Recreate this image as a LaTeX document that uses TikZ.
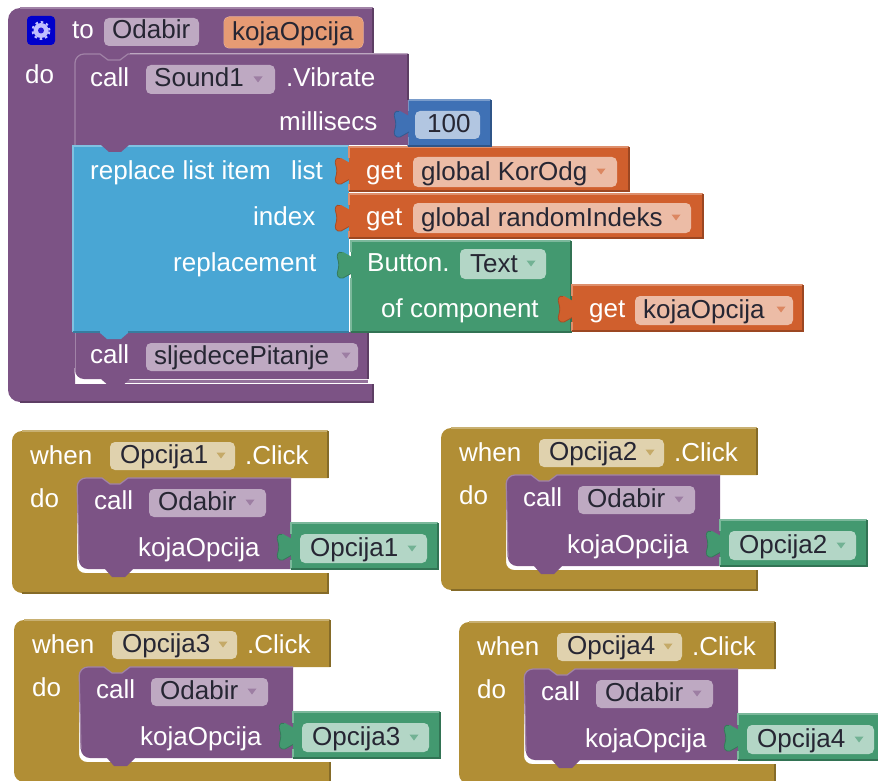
\documentclass[tikz,border=0pt]{standalone}
\usepackage{fontspec}
\setmainfont{Liberation Sans}
\definecolor{cpur}{HTML}{7C5385}
\definecolor{cblu}{HTML}{49A6D4}
\definecolor{cora}{HTML}{D05F2D}
\definecolor{cgrn}{HTML}{439970}
\definecolor{cmus}{HTML}{B18E35}
\definecolor{cval}{HTML}{3F71B5}
\definecolor{fpur}{HTML}{BEA9C2}
\definecolor{fora}{HTML}{ECBCA6}
\definecolor{fparam}{HTML}{E69B74}
\definecolor{fgrn}{HTML}{B3D6C6}
\definecolor{fmus}{HTML}{E0D2AE}
\definecolor{fval}{HTML}{B2C6E1}
\definecolor{ftxt}{HTML}{262633}
\tikzset{
  lbl/.style={anchor=base west,inner sep=0pt,text=white,font=\fontsize{26}{30}\selectfont},
  fldtxt/.style={anchor=base west,inner sep=0pt,text=ftxt,font=\fontsize{26}{30}\selectfont},
  fldbox/.style={rounded corners=5pt},
}
% label: name, x, baseline, text
\newcommand\lab[4]{\node[lbl] (#1) at (#2,#3) {#4};}
% field: [text offset] name,x1,y1,x2,y2,fill,text
\newcommand\fld[8][8]{\fill[#7,fldbox] (#3,#4) rectangle (#5,#6);
  \node[fldtxt] (#2) at ([xshift=#1pt]#3,#6-7) {#8};}
% drop-down arrow: centre x, centre y, colour
\newcommand\drop[3]{\fill[#3!75!white] (#1-4.5,#2-2.5) -- (#1+4.5,#2-2.5) -- (#1,#2+3.5) -- cycle;}
% left puzzle tab: x of block edge, top y, colour
\newcommand\tabpc[3]{\fill[#3] (#1+1,#2+5) -- (#1-8,#2) .. controls (#1-13,#2-1) and (#1-15,#2+3) .. (#1-13,#2+8)
   .. controls (#1-12,#2+11) and (#1-12,#2+15) .. (#1-13,#2+18)
   .. controls (#1-15,#2+23) and (#1-13,#2+27) .. (#1-8,#2+26) -- (#1+1,#2+21) -- cycle;
   \draw[#3!80!black,line width=.8pt] (#1-9,#2+.5) .. controls (#1-13,#2-1) and (#1-15,#2+3) .. (#1-13,#2+8)
   .. controls (#1-12,#2+11) and (#1-12,#2+15) .. (#1-13,#2+18)
   .. controls (#1-15,#2+23) and (#1-13,#2+27) .. (#1-8,#2+26) -- (#1+1,#2+21);}
% rectangular value block with tab: x1,y1,x2,y2,colour
\newcommand\vblk[5]{\tabpc{#1}{#2+11}{#5}
  \fill[#5] (#1,#2) rectangle (#3,#4);
  \draw[#5!70!white,line width=1.2pt] (#1,#4) -- (#1,#2+26+11) (#1,#2+11) -- (#1,#2) -- (#3,#2);
  \draw[#5!75!black,line width=1.2pt] (#3,#2) -- (#3,#4) -- (#1,#4);}
% the when-block with its call: prefix,dx,dy,name
\newcommand\evt[4]{\begin{scope}[shift={(#2,#3)}]
  \fill[cmus] (328,431) [rounded corners=10pt] -- (12,431) -- (12,593) [sharp corners] -- (328,593) -- (328,573)
     [rounded corners=8pt] -- (77,573) [sharp corners] -- (77,478) -- (328,478) -- cycle;
  \fill[cmus] (77,477) rectangle (135,486);
  \draw[cmus!70!white,line width=1.2pt] (328,431) -- (22,431);
  \draw[cmus!75!black,line width=1.2pt] (328,431) -- (328,478) (328,573) -- (328,593) -- (22,593);
  \fill[white] (104,565) rectangle (200,573);
  \draw[white,line width=2.5pt,rounded corners=8pt] (79,555) -- (79,571) -- (106,571);
  \fill[cpur] (291,478) -- (128,478) -- (120,484) -- (110,484) -- (102,478) [rounded corners=9pt] -- (77,478) [sharp corners]
     [rounded corners=9pt] -- (79,569) [sharp corners]
     -- (105,569) -- (112,577) -- (125,577) -- (133,569) -- (291,569) -- cycle;
  \draw[cpur!72!white,line width=1.2pt] (291,478) -- (128,478) -- (120,484) -- (110,484) -- (102,478) [rounded corners=9pt] -- (77,478) -- (79,560);
  \vblk{291}{523}{438}{569}{cgrn}
  \lab{#1w}{30}{464}{when}
  \fld[10]{#1n}{110}{442}{235}{470}{fmus}{#4}
  \drop{221}{455}{cmus}
  \lab{#1c}{245}{464}{.Click}
  \lab{#1d}{30}{507}{do}
  \lab{#1k}{94}{509}{call}
  \fld[9]{#1o}{149}{489}{266}{517}{fpur}{Odabir}
  \drop{250}{502}{cpur}
  \lab{#1p}{138}{556}{kojaOpcija}
  \fld[10]{#1v}{300}{534}{427}{563}{fgrn}{#4}
  \drop{412}{548}{cgrn}
\end{scope}}
\begin{document}
\begin{tikzpicture}[x=1pt,y=-1pt]
\useasboundingbox (0,0) rectangle (878,781);
\clip (0,0) rectangle (878,781);
% procedure block
\fill[cpur] (373,8) [rounded corners=12pt] -- (8,8) -- (8,402) [sharp corners] -- (373,402) -- (373,384)
   -- (75,384) -- (75,53) -- (373,53) -- cycle;
\fill[cpur] (75,52) rectangle (130,62);
\draw[cpur!72!white,line width=1.2pt] (373,8) -- (20,8);
\draw[cpur!75!black,line width=1.2pt] (373,8) -- (373,53) (373,384) -- (373,402) -- (20,402);
% sljedecePitanje
\draw[cpur!82!white,line width=3pt] (125,381) -- (368,381);
\draw[white,line width=2.6pt,rounded corners=8pt] (76,368) -- (76,381) -- (105,381);
\fill[cpur] (368,332) -- (75,332) [rounded corners=9pt] -- (75,379) [sharp corners]
   -- (101,379) -- (109,386) -- (122,386) -- (130,379) -- (368,379) -- cycle;
\draw[cpur!72!white,line width=1pt] (75,332) -- (75,372);
\draw[cpur!75!black,line width=1.2pt] (368,332) -- (368,379);
% replace block
\fill[cblu] (73,146) rectangle (349,332);
\fill[cblu] (99,332) -- (107,339) -- (121,339) -- (129,332) -- cycle;
\draw[cblu!70!white,line width=1.2pt] (73,332) -- (73,146) -- (349,146);
\draw[cblu!75!black,line width=1.2pt] (73,332) -- (100,332) (128,332) -- (349,332);
% value sockets of replace
\vblk{349}{147}{629}{191}{cora}
\vblk{349}{194}{703}{238}{cora}
\vblk{351}{241}{571}{332}{cgrn}
\vblk{572}{285}{803}{331}{cora}
% vibrate block
\vblk{408}{100}{491}{146}{cval}
\fill[cpur] (408,54) -- (128,54) -- (120,60) -- (108,60) -- (100,54) [rounded corners=9pt] -- (75,54) [sharp corners] -- (75,145)
   -- (101,145) -- (109,152) -- (121,152) -- (129,145) -- (408,145) -- cycle;
\draw[cpur!72!white,line width=1.2pt] (408,54) -- (128,54) -- (120,60) -- (108,60) -- (100,54) [rounded corners=9pt] -- (75,54) [sharp corners] -- (75,145);
\draw[cpur!75!black,line width=1.2pt] (408,54) -- (408,100);
\tabpc{408}{111}{cval}
% header
\fill[blue!80!black,rounded corners=4pt] (27,16) rectangle (55,45);
\fill[white!75!blue] (41,30.5) circle (7.5pt);
\draw[white!75!blue,line width=2pt,dash pattern=on 2.5pt off 3pt] (41,30.5) circle (8.5pt);
\fill[blue!70!cpur] (41,30.5) circle (3pt);
\lab{to}{72}{39}{to}
\fld{pname}{104}{18}{199}{46}{fpur}{Odabir}
\draw[fparam!70!white,line width=1pt,fldbox] (224,17) rectangle (363,48);
\fld{parg}{224}{17}{363}{48}{fparam}{kojaOpcija}
\lab{do}{25}{84}{do}
\lab{call1}{90}{87}{call}
\fld{snd}{146}{65}{275}{94}{fpur}{Sound1}
\drop{258}{79}{cpur}
\lab{vib}{286}{87}{.Vibrate}
\lab{ms}{279}{131}{millisecs}
\fld[12]{hund}{415}{111}{480}{139}{fval}{100}
\lab{repl}{90}{179}{replace list item}
\lab{lst}{291}{179}{list}
\lab{idx}{253}{225}{index}
\lab{rpm}{173}{271}{replacement}
\lab{get1}{366}{179}{get}
\fld{kor}{413}{157}{617}{187}{fora}{global KorOdg}
\drop{601}{171}{cora}
\lab{get2}{366}{225}{get}
\fld{rnd}{413}{203}{691}{233}{fora}{global randomIndeks}
\drop{676}{217}{cora}
\lab{btn}{367}{271}{Button.}
\fld[10]{txt}{460}{249}{546}{279}{fgrn}{Text}
\drop{531}{263}{cgrn}
\lab{ofc}{381}{317}{of component}
\lab{get3}{589}{317}{get}
\fld{koj}{635}{296}{793}{325}{fora}{kojaOpcija}
\drop{781}{309}{cora}
\lab{call2}{90}{363}{call}
\fld{slj}{146}{343}{358}{371}{fpur}{sljedecePitanje}
\drop{346}{355}{cpur}
% event blocks
\evt{a}{0}{0}{Opcija1}
\evt{b}{429}{-3}{Opcija2}
\evt{c}{2}{189}{Opcija3}
\evt{d}{447}{191}{Opcija4}
\end{tikzpicture}
\end{document}
